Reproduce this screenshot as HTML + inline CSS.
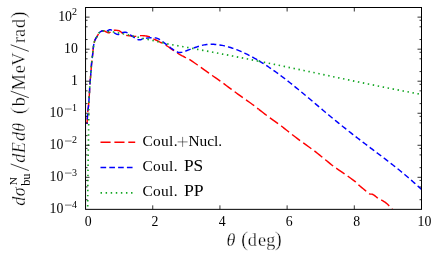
<!DOCTYPE html><html><head><meta charset="utf-8"><title>plot</title><style>html,body{margin:0;padding:0;background:#fff;overflow:hidden}svg{display:block}text{font-family:"Liberation Serif",serif;fill:#000}.i{font-style:italic;stroke:#fff;stroke-width:0.28px}.p{stroke:#fff;stroke-width:0.5px}.r{stroke:#fff;stroke-width:0.26px}</style></head><body>
<svg width="436" height="253" viewBox="0 0 436 253">
<rect width="436" height="253" fill="#fff"/>
<defs><clipPath id="c"><rect x="85.55" y="7.50" width="335.95" height="201.85"/></clipPath></defs>
<g clip-path="url(#c)" fill="none" stroke-linejoin="round">
<path d="M87.00,124.00 L87.05,123.19 L87.11,122.06 L87.19,120.72 L87.27,119.33 L87.35,118.00 L87.43,116.73 L87.51,115.44 L87.59,114.12 L87.69,112.81 L87.80,111.50 L87.94,110.25 L88.10,109.05 L88.27,107.83 L88.44,106.50 L88.60,105.00 L88.75,103.28 L88.89,101.40 L89.03,99.41 L89.17,97.36 L89.30,95.30 L89.42,93.19 L89.54,91.00 L89.65,88.78 L89.77,86.59 L89.90,84.50 L90.04,82.56 L90.20,80.73 L90.36,78.92 L90.53,77.05 L90.70,75.00 L90.88,72.70 L91.06,70.19 L91.26,67.63 L91.45,65.16 L91.65,62.90 L91.86,60.86 L92.09,58.94 L92.31,57.15 L92.52,55.50 L92.70,54.00 L92.83,52.67 L92.94,51.51 L93.02,50.48 L93.11,49.52 L93.20,48.60 L93.31,47.72 L93.42,46.91 L93.53,46.16 L93.64,45.46 L93.75,44.80 L93.86,44.19 L93.97,43.64 L94.08,43.13 L94.19,42.66 L94.30,42.20 L94.41,41.78 L94.51,41.40 L94.62,41.05 L94.75,40.69 L94.90,40.30 L95.09,39.87 L95.30,39.43 L95.53,38.97 L95.77,38.53 L96.00,38.10 L96.24,37.70 L96.48,37.31 L96.73,36.94 L96.97,36.57 L97.20,36.20 L97.41,35.83 L97.61,35.47 L97.81,35.11 L98.00,34.75 L98.20,34.40 L98.40,34.04 L98.61,33.68 L98.81,33.32 L99.03,32.99 L99.25,32.70 L99.48,32.45 L99.72,32.24 L99.97,32.04 L100.23,31.87 L100.50,31.70 L100.78,31.53 L101.08,31.37 L101.39,31.23 L101.70,31.10 L102.00,31.00 L102.30,30.92 L102.61,30.86 L102.91,30.81 L103.21,30.79 L103.50,30.80 L103.77,30.84 L104.02,30.90 L104.27,30.98 L104.52,31.08 L104.80,31.20 L105.10,31.34 L105.41,31.50 L105.73,31.67 L106.06,31.84 L106.40,32.00 L106.75,32.16 L107.12,32.33 L107.50,32.48 L107.86,32.61 L108.20,32.70 L108.51,32.75 L108.79,32.77 L109.06,32.75 L109.33,32.70 L109.60,32.60 L109.88,32.44 L110.15,32.23 L110.43,31.98 L110.71,31.73 L111.00,31.50 L111.29,31.28 L111.56,31.05 L111.86,30.84 L112.19,30.65 L112.60,30.50 L113.09,30.40 L113.66,30.34 L114.26,30.31 L114.89,30.30 L115.50,30.30 L116.13,30.32 L116.79,30.36 L117.44,30.41 L118.06,30.49 L118.60,30.60 L119.05,30.74 L119.43,30.90 L119.76,31.08 L120.08,31.28 L120.40,31.50 L120.71,31.73 L121.01,31.99 L121.29,32.25 L121.59,32.53 L121.90,32.80 L122.24,33.08 L122.60,33.37 L122.97,33.66 L123.34,33.94 L123.70,34.20 L124.02,34.43 L124.29,34.64 L124.59,34.84 L124.97,35.03 L125.50,35.20 L126.21,35.36 L127.06,35.51 L128.00,35.65 L128.99,35.78 L130.00,35.90 L131.06,36.03 L132.20,36.17 L133.36,36.30 L134.48,36.38 L135.50,36.40 L136.38,36.32 L137.17,36.17 L137.91,35.98 L138.67,35.81 L139.50,35.70 L140.41,35.65 L141.36,35.62 L142.34,35.63 L143.33,35.67 L144.30,35.75 L145.26,35.86 L146.22,36.00 L147.18,36.17 L148.14,36.40 L149.10,36.70 L150.09,37.10 L151.10,37.60 L152.10,38.14 L153.05,38.66 L153.90,39.10 L154.63,39.44 L155.27,39.72 L155.85,39.97 L156.41,40.22 L157.00,40.50 L157.58,40.79 L158.12,41.09 L158.68,41.39 L159.29,41.73 L160.00,42.10 L160.81,42.49 L161.68,42.89 L162.63,43.33 L163.66,43.85 L164.80,44.50 L166.07,45.31 L167.47,46.25 L168.94,47.26 L170.44,48.30 L171.90,49.30 L173.35,50.29 L174.83,51.30 L176.30,52.30 L177.74,53.24 L179.10,54.10 L180.41,54.86 L181.69,55.56 L182.91,56.19 L184.05,56.77 L185.10,57.30 L185.94,57.70 L186.59,57.97 L187.20,58.22 L187.95,58.59 L189.00,59.20 L190.50,60.16 L192.36,61.40 L194.32,62.74 L196.14,64.00 L197.60,65.00 L198.52,65.64 L199.08,66.05 L199.50,66.37 L200.02,66.76 L200.90,67.40 L202.27,68.38 L203.98,69.60 L205.81,70.90 L207.52,72.12 L208.90,73.10 L209.79,73.74 L210.35,74.14 L210.80,74.47 L211.36,74.87 L212.25,75.50 L213.63,76.47 L215.35,77.67 L217.18,78.94 L218.89,80.14 L220.25,81.10 L221.11,81.71 L221.62,82.08 L222.02,82.37 L222.53,82.76 L223.40,83.40 L224.78,84.42 L226.52,85.71 L228.38,87.09 L230.11,88.37 L231.50,89.40 L232.37,90.05 L232.90,90.43 L233.30,90.73 L233.82,91.11 L234.70,91.75 L236.09,92.77 L237.84,94.05 L239.71,95.42 L241.45,96.69 L242.85,97.70 L243.74,98.33 L244.29,98.69 L244.71,98.96 L245.24,99.31 L246.10,99.90 L247.42,100.84 L249.07,102.02 L250.82,103.28 L252.46,104.47 L253.80,105.45 L254.66,106.09 L255.19,106.50 L255.62,106.85 L256.21,107.33 L257.20,108.10 L258.78,109.32 L258.80,109.34" stroke="#ff0000" stroke-width="1.45" stroke-dasharray="10.10 3.80" stroke-dashoffset="2.03"/>
<path d="M258.80,109.34 L260.77,110.87 L262.91,112.53 L264.92,114.08 L266.50,115.30 L267.50,116.06 L268.10,116.52 L268.55,116.86 L269.10,117.26 L270.00,117.90 L271.39,118.89 L273.10,120.12 L274.92,121.41 L276.63,122.62 L278.00,123.60 L278.89,124.23 L279.45,124.62 L279.89,124.93 L280.43,125.34 L281.30,126.00 L282.63,127.04 L284.27,128.34 L286.02,129.73 L287.67,131.04 L289.00,132.10 L289.88,132.79 L290.44,133.23 L290.90,133.58 L291.47,134.02 L292.35,134.70 L293.69,135.74 L295.35,137.04 L297.12,138.41 L298.77,139.69 L300.10,140.70 L300.95,141.32 L301.47,141.65 L301.88,141.90 L302.42,142.24 L303.30,142.85 L304.69,143.86 L306.44,145.13 L308.31,146.50 L310.06,147.78 L311.45,148.80 L312.33,149.43 L312.87,149.80 L313.28,150.07 L313.80,150.45 L314.65,151.10 L315.98,152.15 L317.63,153.48 L319.40,154.91 L321.04,156.24 L322.35,157.30 L323.17,157.96 L323.64,158.34 L324.00,158.64 L324.48,159.03 L325.30,159.70 L326.63,160.79 L328.30,162.16 L330.09,163.63 L331.77,164.99 L333.10,166.05 L333.92,166.68 L334.39,167.00 L334.74,167.22 L335.23,167.53 L336.10,168.10 L337.52,169.06 L339.33,170.29 L341.26,171.60 L343.07,172.83 L344.50,173.80 L345.38,174.40 L345.89,174.75 L346.26,175.02 L346.75,175.38 L347.60,176.00 L348.97,176.99 L350.69,178.23 L352.52,179.57 L354.24,180.85 L355.60,181.90 L356.45,182.63 L356.94,183.15 L357.31,183.60 L357.79,184.14 L358.60,184.90 L359.89,186.01 L361.50,187.36 L363.22,188.78 L364.85,190.12 L366.15,191.20 L367.06,192.00 L367.72,192.62 L368.25,193.11 L368.75,193.51 L369.35,193.85 L370.03,194.06 L370.71,194.10 L371.42,194.11 L372.18,194.20 L373.00,194.50 L373.94,195.09 L374.99,195.90 L376.07,196.79 L377.10,197.63 L378.00,198.30 L378.72,198.74 L379.32,199.03 L379.86,199.27 L380.45,199.53 L381.15,199.90 L382.01,200.39 L382.98,200.95 L383.99,201.56 L384.99,202.20 L385.90,202.85 L386.74,203.53 L387.55,204.26 L388.31,204.99 L389.03,205.72 L389.70,206.40 L390.34,207.08 L390.95,207.76 L391.50,208.41 L391.97,208.96 L392.30,209.35" stroke="#ff0000" stroke-width="1.45" stroke-dasharray="10.10 3.80"/>
<path d="M87.00,124.00 L87.05,123.19 L87.11,122.06 L87.19,120.72 L87.27,119.33 L87.35,118.00 L87.43,116.73 L87.51,115.44 L87.59,114.12 L87.69,112.81 L87.80,111.50 L87.94,110.25 L88.10,109.05 L88.27,107.83 L88.44,106.50 L88.60,105.00 L88.75,103.28 L88.89,101.40 L89.03,99.41 L89.17,97.36 L89.30,95.30 L89.42,93.19 L89.54,91.00 L89.65,88.78 L89.77,86.59 L89.90,84.50 L90.04,82.56 L90.20,80.73 L90.36,78.92 L90.53,77.05 L90.70,75.00 L90.88,72.70 L91.06,70.19 L91.26,67.63 L91.45,65.16 L91.65,62.90 L91.86,60.86 L92.09,58.94 L92.31,57.15 L92.52,55.50 L92.70,54.00 L92.83,52.67 L92.94,51.51 L93.02,50.48 L93.11,49.52 L93.20,48.60 L93.31,47.72 L93.42,46.91 L93.53,46.16 L93.64,45.46 L93.75,44.80 L93.86,44.19 L93.97,43.64 L94.08,43.13 L94.19,42.66 L94.30,42.20 L94.41,41.78 L94.51,41.40 L94.62,41.05 L94.75,40.69 L94.90,40.30 L95.09,39.87 L95.30,39.43 L95.53,38.97 L95.77,38.53 L96.00,38.10 L96.24,37.70 L96.48,37.31 L96.73,36.94 L96.97,36.57 L97.20,36.20 L97.41,35.83 L97.61,35.47 L97.81,35.11 L98.00,34.75 L98.20,34.40 L98.40,34.04 L98.61,33.68 L98.81,33.32 L99.03,32.99 L99.25,32.70 L99.48,32.45 L99.72,32.24 L99.97,32.04 L100.23,31.87 L100.50,31.70 L100.78,31.53 L101.08,31.37 L101.39,31.23 L101.70,31.10 L102.00,31.00 L102.31,30.92 L102.62,30.86 L102.93,30.81 L103.23,30.79 L103.50,30.80 L103.75,30.84 L103.97,30.92 L104.18,31.01 L104.39,31.11 L104.60,31.20 L104.82,31.29 L105.03,31.40 L105.25,31.50 L105.47,31.58 L105.70,31.60 L105.95,31.56 L106.21,31.48 L106.47,31.36 L106.74,31.23 L107.00,31.10 L107.26,30.95 L107.53,30.79 L107.79,30.61 L108.05,30.45 L108.30,30.30 L108.53,30.17 L108.75,30.06 L108.96,29.96 L109.18,29.87 L109.40,29.80 L109.63,29.74 L109.87,29.69 L110.12,29.66 L110.36,29.66 L110.60,29.70 L110.84,29.79 L111.08,29.92 L111.32,30.09 L111.56,30.28 L111.80,30.50 L112.02,30.76 L112.23,31.06 L112.45,31.38 L112.70,31.70 L113.00,32.00 L113.38,32.28 L113.81,32.54 L114.27,32.80 L114.74,33.06 L115.20,33.30 L115.64,33.55 L116.09,33.82 L116.53,34.06 L116.97,34.27 L117.40,34.40 L117.81,34.46 L118.21,34.47 L118.60,34.42 L119.00,34.33 L119.40,34.20 L119.81,34.00 L120.21,33.73 L120.63,33.42 L121.05,33.13 L121.50,32.90 L121.98,32.72 L122.48,32.58 L123.00,32.46 L123.51,32.36 L124.00,32.30 L124.48,32.26 L124.96,32.26 L125.43,32.28 L125.88,32.32 L126.30,32.40 L126.68,32.51 L127.03,32.65 L127.36,32.82 L127.68,33.00 L128.00,33.20 L128.30,33.41 L128.58,33.64 L128.86,33.89 L129.16,34.14 L129.50,34.40 L129.90,34.67 L130.33,34.94 L130.79,35.22 L131.25,35.51 L131.70,35.80 L132.12,36.09 L132.53,36.37 L132.95,36.66 L133.40,36.97 L133.90,37.30 L134.47,37.69 L135.10,38.14 L135.76,38.58 L136.43,38.99 L137.10,39.30 L137.78,39.52 L138.48,39.68 L139.19,39.79 L139.87,39.83 L140.50,39.80 L141.02,39.68 L141.44,39.46 L141.86,39.20 L142.38,38.93 L143.10,38.70 L144.07,38.51 L145.22,38.32 L146.47,38.15 L147.76,38.00 L149.00,37.90 L150.23,37.83 L151.51,37.79 L152.77,37.79 L153.95,37.82 L155.00,37.90 L155.87,38.01 L156.60,38.15 L157.26,38.33 L157.91,38.58 L158.60,38.90 L159.33,39.31 L160.06,39.80 L160.80,40.35 L161.57,40.94 L162.40,41.55 L163.30,42.20 L164.25,42.90 L165.24,43.63 L166.23,44.37 L167.20,45.10 L168.14,45.83 L169.08,46.57 L170.02,47.30 L170.96,48.02 L171.90,48.70 L172.88,49.37 L173.90,50.05 L174.90,50.69 L175.85,51.25 L176.70,51.70 L177.40,52.03 L177.97,52.26 L178.50,52.40 L179.05,52.48 L179.70,52.50 L180.46,52.46 L181.27,52.34 L182.13,52.17 L183.01,51.95 L183.90,51.70 L184.82,51.40 L185.78,51.03 L186.75,50.64 L187.70,50.25 L188.60,49.90 L189.42,49.60 L190.19,49.32 L190.94,49.06 L191.69,48.79 L192.50,48.50 L193.34,48.19 L194.18,47.87 L195.06,47.54 L195.99,47.21 L197.00,46.87 L198.10,46.51 L199.29,46.12 L200.53,45.73 L201.78,45.38 L203.00,45.09 L204.20,44.86 L205.40,44.67 L206.60,44.52 L207.80,44.41 L209.00,44.33 L210.20,44.28 L211.40,44.27 L212.60,44.29 L213.80,44.33 L215.00,44.41 L216.20,44.51 L217.40,44.63 L218.60,44.79 L219.80,44.97 L221.00,45.17 L222.20,45.39 L223.40,45.64 L224.60,45.91 L225.80,46.20 L227.00,46.51 L228.20,46.84 L229.40,47.19 L230.60,47.56 L231.80,47.95 L233.00,48.35 L234.20,48.77 L235.40,49.21 L236.60,49.67 L237.80,50.14 L239.00,50.63 L240.20,51.13 L241.40,51.65 L242.60,52.18 L243.80,52.73 L245.00,53.29 L246.20,53.87 L247.40,54.46 L248.60,55.06 L249.80,55.68 L251.00,56.31 L252.20,56.95 L253.40,57.61 L254.60,58.28 L255.80,58.96 L257.00,59.66 L258.20,60.36 L258.80,60.72" stroke="#0000ff" stroke-width="1.45" stroke-dasharray="5.65 3.15" stroke-dashoffset="4.30"/>
<path d="M258.80,60.72 L259.40,61.08 L260.60,61.81 L261.80,62.55 L263.00,63.30 L264.20,64.07 L265.40,64.84 L266.60,65.63 L267.80,66.42 L269.00,67.23 L270.20,68.04 L271.40,68.87 L272.60,69.70 L273.80,70.55 L275.00,71.40 L276.20,72.26 L277.40,73.14 L278.60,74.02 L279.80,74.91 L281.00,75.80 L282.20,76.71 L283.40,77.62 L284.60,78.54 L285.80,79.46 L287.00,80.40 L288.20,81.34 L289.40,82.28 L290.60,83.23 L291.80,84.19 L293.00,85.15 L294.20,86.12 L295.40,87.09 L296.60,88.07 L297.80,89.05 L299.00,90.04 L300.20,91.03 L301.40,92.02 L302.60,93.02 L303.80,94.02 L305.00,95.02 L306.20,96.02 L307.40,97.03 L308.60,98.04 L309.80,99.05 L311.00,100.06 L312.20,101.07 L313.40,102.08 L314.60,103.10 L315.80,104.11 L317.00,105.12 L318.20,106.14 L319.40,107.15 L320.60,108.16 L321.80,109.17 L323.00,110.18 L324.20,111.19 L325.40,112.20 L326.60,113.20 L327.80,114.20 L329.00,115.20 L330.20,116.20 L331.40,117.20 L332.60,118.19 L333.80,119.18 L335.00,120.17 L336.20,121.15 L337.40,122.13 L338.60,123.11 L339.80,124.08 L341.00,125.05 L342.20,126.02 L343.40,126.98 L344.60,127.94 L345.80,128.90 L347.00,129.86 L348.20,130.80 L349.40,131.75 L350.60,132.69 L351.80,133.63 L353.00,134.57 L354.20,135.50 L355.40,136.43 L356.60,137.36 L357.80,138.28 L359.00,139.20 L360.20,140.12 L361.40,141.04 L362.60,141.95 L363.80,142.86 L365.00,143.77 L366.20,144.68 L367.40,145.59 L368.60,146.49 L369.80,147.39 L371.00,148.30 L372.20,149.20 L373.40,150.10 L374.60,151.00 L375.80,151.91 L377.00,152.81 L378.20,153.72 L379.40,154.62 L380.60,155.53 L381.80,156.44 L383.00,157.35 L384.20,158.27 L385.40,159.18 L386.60,160.10 L387.80,161.03 L389.00,161.95 L390.20,162.89 L391.40,163.82 L392.60,164.76 L393.80,165.71 L395.00,166.66 L396.20,167.62 L397.40,168.58 L398.60,169.55 L399.80,170.53 L401.00,171.51 L402.20,172.50 L403.40,173.50 L404.60,174.50 L405.80,175.51 L407.00,176.53 L408.20,177.55 L409.40,178.58 L410.60,179.62 L411.80,180.67 L413.00,181.72 L414.26,182.84 L415.57,184.01 L416.85,185.16 L418.02,186.22 L419.00,187.10 L419.76,187.79 L420.37,188.34 L420.85,188.78 L421.22,189.12 L421.50,189.38" stroke="#0000ff" stroke-width="1.45" stroke-dasharray="5.65 3.15"/>
<path d="M87.70,209.35 L87.71,206.73 L87.73,203.03 L87.75,198.72 L87.77,194.22 L87.80,190.00 L87.83,186.04 L87.87,182.05 L87.91,178.03 L87.95,174.01 L88.00,170.00 L88.05,166.00 L88.11,162.00 L88.18,158.00 L88.24,154.00 L88.30,150.00 L88.36,145.92 L88.42,141.76 L88.49,137.64 L88.55,133.68 L88.60,130.00 L88.65,126.58 L88.69,123.35 L88.73,120.33 L88.77,117.54 L88.80,115.00 L88.82,112.84 L88.83,111.05 L88.84,109.43 L88.86,107.81 L88.90,106.00" stroke="#12a622" stroke-width="1.65" stroke-dasharray="1.45 3.61" stroke-dashoffset="2.20"/>
<path d="M88.90,106.00 L88.96,103.97 L89.03,101.85 L89.11,99.67 L89.20,97.47 L89.30,95.30 L89.40,93.13 L89.52,90.92 L89.64,88.73 L89.76,86.58 L89.90,84.50 L90.04,82.56 L90.20,80.73 L90.36,78.92 L90.53,77.05 L90.70,75.00 L90.88,72.70 L91.06,70.19 L91.26,67.63 L91.45,65.16 L91.65,62.90 L91.86,60.86 L92.09,58.94 L92.31,57.15 L92.52,55.50 L92.70,54.00 L92.83,52.67 L92.94,51.51 L93.02,50.48 L93.11,49.52 L93.20,48.60 L93.31,47.72 L93.42,46.91 L93.53,46.16 L93.64,45.46 L93.75,44.80 L93.86,44.19 L93.97,43.64 L94.08,43.13 L94.19,42.66 L94.30,42.20 L94.41,41.78 L94.51,41.40 L94.62,41.05 L94.75,40.69 L94.90,40.30 L95.09,39.87 L95.30,39.43 L95.53,38.97 L95.77,38.53 L96.00,38.10 L96.24,37.70 L96.48,37.31 L96.73,36.94 L96.97,36.57 L97.20,36.20 L97.41,35.83 L97.61,35.47 L97.81,35.11 L98.00,34.75 L98.20,34.40 L98.40,34.04 L98.61,33.68 L98.81,33.32 L99.03,32.99 L99.25,32.70 L99.48,32.45 L99.72,32.24 L99.97,32.04 L100.23,31.87 L100.50,31.70 L100.78,31.53 L101.08,31.37 L101.39,31.23 L101.70,31.10 L102.00,31.00 L102.30,30.92 L102.61,30.86 L102.91,30.81 L103.21,30.79 L103.50,30.80 L103.77,30.84 L104.03,30.92 L104.28,31.01 L104.54,31.11 L104.80,31.20 L105.08,31.28 L105.36,31.36 L105.65,31.45 L105.93,31.53 L106.20,31.60 L106.44,31.67 L106.65,31.75 L106.86,31.81 L107.11,31.87 L107.40,31.90 L107.75,31.90 L108.13,31.88 L108.54,31.84 L109.00,31.81 L109.50,31.80 L110.02,31.79 L110.57,31.79 L111.16,31.79 L111.83,31.83 L112.60,31.90 L113.51,32.03 L114.54,32.20 L115.63,32.39 L116.74,32.60 L117.80,32.80 L118.81,33.00 L119.81,33.20 L120.80,33.40 L121.80,33.60 L122.80,33.80 L123.82,33.98 L124.85,34.15 L125.88,34.32 L126.90,34.50 L127.90,34.70 L128.88,34.94 L129.84,35.20 L130.79,35.48 L131.74,35.75 L132.70,36.00 L133.66,36.23 L134.63,36.45 L135.60,36.67 L136.56,36.88 L137.50,37.10 L138.40,37.32 L139.25,37.54 L140.11,37.75 L141.02,37.97 L142.00,38.20 L143.11,38.44 L144.31,38.68 L145.55,38.92 L146.77,39.16 L147.90,39.40 L148.93,39.63 L149.90,39.85 L150.84,40.06 L151.76,40.28 L152.70,40.50 L153.64,40.72 L154.58,40.94 L155.52,41.17 L156.46,41.39 L157.40,41.60 L158.34,41.80 L159.26,41.99 L160.20,42.18 L161.17,42.38 L162.20,42.60 L163.28,42.85 L164.39,43.13 L165.55,43.41 L166.75,43.70 L168.00,43.97 L169.32,44.23 L170.71,44.48 L172.14,44.73 L173.58,44.97 L175.00,45.22 L176.40,45.48 L177.80,45.73 L179.20,45.98 L180.60,46.23 L182.00,46.49 L183.40,46.74 L184.80,47.00 L186.20,47.25 L187.60,47.51 L189.00,47.77 L190.40,48.02 L191.80,48.28 L193.20,48.54 L194.60,48.80 L196.00,49.06 L197.40,49.32 L198.80,49.58 L200.20,49.84 L201.60,50.10 L203.00,50.36 L204.40,50.62 L205.80,50.89 L207.20,51.15 L208.60,51.41 L210.00,51.68 L211.40,51.94 L212.80,52.21 L214.20,52.47 L215.60,52.74 L217.00,53.01 L218.40,53.28 L219.80,53.54 L221.20,53.81 L222.60,54.08 L224.00,54.35 L225.40,54.62 L226.80,54.89 L228.20,55.16 L229.60,55.44 L231.00,55.71 L232.40,55.98 L233.80,56.25 L235.20,56.53 L236.60,56.80 L238.00,57.08 L239.40,57.35 L240.80,57.63 L242.20,57.91 L243.60,58.18 L245.00,58.46 L246.40,58.74 L247.80,59.02 L249.20,59.30 L250.60,59.57 L252.00,59.85 L253.40,60.13 L254.80,60.42 L256.20,60.70 L257.60,60.98 L258.80,61.22" stroke="#12a622" stroke-width="1.65" stroke-dasharray="1.45 3.61" stroke-dashoffset="1.96"/>
<path d="M258.80,61.22 L259.00,61.26 L260.40,61.54 L261.80,61.83 L263.20,62.11 L264.60,62.40 L266.00,62.68 L267.40,62.96 L268.80,63.25 L270.20,63.54 L271.60,63.82 L273.00,64.11 L274.40,64.40 L275.80,64.68 L277.20,64.97 L278.60,65.26 L280.00,65.55 L281.40,65.84 L282.80,66.13 L284.20,66.42 L285.60,66.71 L287.00,67.00 L288.40,67.29 L289.80,67.58 L291.20,67.87 L292.60,68.16 L294.00,68.45 L295.40,68.74 L296.80,69.04 L298.20,69.33 L299.60,69.62 L301.00,69.91 L302.40,70.21 L303.80,70.50 L305.20,70.79 L306.60,71.09 L308.00,71.38 L309.40,71.68 L310.80,71.97 L312.20,72.26 L313.60,72.56 L315.00,72.85 L316.40,73.15 L317.80,73.44 L319.20,73.74 L320.60,74.03 L322.00,74.33 L323.40,74.62 L324.80,74.92 L326.20,75.21 L327.60,75.51 L329.00,75.80 L330.40,76.10 L331.80,76.39 L333.20,76.69 L334.60,76.98 L336.00,77.28 L337.40,77.57 L338.80,77.87 L340.20,78.16 L341.60,78.46 L343.00,78.75 L344.40,79.04 L345.80,79.34 L347.20,79.63 L348.60,79.93 L350.00,80.22 L351.40,80.51 L352.80,80.80 L354.20,81.10 L355.60,81.39 L357.00,81.68 L358.40,81.97 L359.80,82.26 L361.20,82.55 L362.60,82.84 L364.00,83.13 L365.40,83.42 L366.80,83.71 L368.20,84.00 L369.60,84.29 L371.00,84.57 L372.40,84.86 L373.80,85.15 L375.20,85.43 L376.60,85.72 L378.00,86.00 L379.40,86.28 L380.80,86.57 L382.20,86.85 L383.60,87.13 L385.00,87.41 L386.40,87.69 L387.80,87.97 L389.20,88.25 L390.60,88.53 L392.00,88.81 L393.40,89.08 L394.80,89.36 L396.20,89.63 L397.60,89.90 L399.00,90.18 L400.40,90.45 L401.80,90.72 L403.20,90.99 L404.60,91.26 L406.00,91.53 L407.40,91.79 L408.80,92.06 L410.20,92.32 L411.60,92.58 L413.00,92.85 L414.49,93.12 L416.06,93.41 L417.60,93.70 L418.95,93.94 L420.00,94.14 L420.68,94.26 L421.07,94.33 L421.27,94.37 L421.38,94.39 L421.50,94.41" stroke="#12a622" stroke-width="1.65" stroke-dasharray="1.45 3.61"/>
</g>
<path d="M85.55,199.71h2 M421.50,199.71h-2 M85.55,186.96h2 M421.50,186.96h-2 M85.55,180.42h2 M421.50,180.42h-2 M85.55,177.32h4 M421.50,177.32h-4 M85.55,167.67h2 M421.50,167.67h-2 M85.55,154.92h2 M421.50,154.92h-2 M85.55,148.39h2 M421.50,148.39h-2 M85.55,145.28h4 M421.50,145.28h-4 M85.55,135.64h2 M421.50,135.64h-2 M85.55,122.89h2 M421.50,122.89h-2 M85.55,116.35h2 M421.50,116.35h-2 M85.55,113.25h4 M421.50,113.25h-4 M85.55,103.60h2 M421.50,103.60h-2 M85.55,90.86h2 M421.50,90.86h-2 M85.55,84.32h2 M421.50,84.32h-2 M85.55,81.21h4 M421.50,81.21h-4 M85.55,71.57h2 M421.50,71.57h-2 M85.55,58.82h2 M421.50,58.82h-2 M85.55,52.28h2 M421.50,52.28h-2 M85.55,49.18h4 M421.50,49.18h-4 M85.55,39.53h2 M421.50,39.53h-2 M85.55,26.79h2 M421.50,26.79h-2 M85.55,20.25h2 M421.50,20.25h-2 M85.55,17.14h4 M421.50,17.14h-4 M152.74,209.35v-4 M152.74,7.50v4 M219.93,209.35v-4 M219.93,7.50v4 M287.12,209.35v-4 M287.12,7.50v4 M354.31,209.35v-4 M354.31,7.50v4" stroke="#000" stroke-width="0.8" fill="none"/>
<rect x="85.55" y="7.50" width="335.95" height="201.85" fill="none" stroke="#000" stroke-width="1.0"/>
<defs><mask id="m" maskUnits="userSpaceOnUse" x="0" y="0" width="436" height="253"><rect width="436" height="253" fill="#fff"/></mask></defs>
<g mask="url(#m)" >
<text x="63.4" y="213.25" font-size="13.8" text-anchor="end">10</text>
<path d="M65.0,205.10H71.6" stroke="#000" stroke-width="0.55" fill="none"/>
<text x="72.1" y="207.55" font-size="10.0">4</text>
<text x="63.4" y="181.22" font-size="13.8" text-anchor="end">10</text>
<path d="M65.0,173.07H71.6" stroke="#000" stroke-width="0.55" fill="none"/>
<text x="72.1" y="175.52" font-size="10.0">3</text>
<text x="63.4" y="149.18" font-size="13.8" text-anchor="end">10</text>
<path d="M65.0,141.03H71.6" stroke="#000" stroke-width="0.55" fill="none"/>
<text x="72.1" y="143.48" font-size="10.0">2</text>
<text x="63.4" y="117.15" font-size="13.8" text-anchor="end">10</text>
<path d="M65.0,109.00H71.6" stroke="#000" stroke-width="0.55" fill="none"/>
<text x="72.1" y="111.45" font-size="10.0">1</text>
<text x="77.9" y="85.11" font-size="13.8" text-anchor="end">1</text>
<text x="77.9" y="53.08" font-size="13.8" text-anchor="end">10</text>
<text x="72.0" y="21.04" font-size="13.8" text-anchor="end">10</text>
<text x="72.1" y="14.74" font-size="10.0">2</text>
<text x="88.25" y="225.7" font-size="13.8" text-anchor="middle">0</text>
<text x="155.04" y="225.7" font-size="13.8" text-anchor="middle">2</text>
<text x="222.23" y="225.7" font-size="13.8" text-anchor="middle">4</text>
<text x="289.32" y="225.7" font-size="13.8" text-anchor="middle">6</text>
<text x="356.71" y="225.7" font-size="13.8" text-anchor="middle">8</text>
<text x="424.40" y="225.7" font-size="13.8" text-anchor="middle">10</text>
<text x="230.90" y="245.70" font-size="18.2" text-anchor="middle" class="i">θ</text>
<text x="244.70" y="245.70" font-size="21.5" text-anchor="middle" class="p">(</text>
<text x="252.40" y="245.70" font-size="18.2" text-anchor="middle" class="r">d</text>
<text x="262.00" y="245.70" font-size="18.2" text-anchor="middle" class="r">e</text>
<text x="270.90" y="245.70" font-size="18.2" text-anchor="middle" class="r">g</text>
<text x="278.40" y="245.70" font-size="21.5" text-anchor="middle" class="p">)</text>
<g transform="translate(25.1,206) rotate(-90)">
<text x="4.75" y="0.00" font-size="18.2" text-anchor="middle" class="i">d</text>
<text x="14.30" y="0.00" font-size="18.2" text-anchor="middle" class="i">σ</text>
<text x="47.80" y="0.00" font-size="18.2" text-anchor="middle" class="i">d</text>
<text x="58.40" y="0.00" font-size="18.2" text-anchor="middle" class="i">E</text>
<text x="69.50" y="0.00" font-size="18.2" text-anchor="middle" class="i">d</text>
<text x="78.70" y="0.00" font-size="18.2" text-anchor="middle" class="i">θ</text>
<text x="95.40" y="0.00" font-size="21.5" text-anchor="middle" class="p">(</text>
<text x="104.30" y="0.00" font-size="18.2" text-anchor="middle" class="r">b</text>
<text x="123.75" y="0.00" font-size="18.2" text-anchor="middle" class="r">M</text>
<text x="136.75" y="0.00" font-size="18.2" text-anchor="middle" class="r">e</text>
<text x="146.75" y="0.00" font-size="18.2" text-anchor="middle" class="r">V</text>
<text x="166.15" y="0.00" font-size="18.2" text-anchor="middle" class="r">r</text>
<text x="173.00" y="0.00" font-size="18.2" text-anchor="middle" class="r">a</text>
<text x="182.50" y="0.00" font-size="18.2" text-anchor="middle" class="r">d</text>
<text x="191.00" y="0.00" font-size="21.5" text-anchor="middle" class="p">)</text>
<text x="20.7" y="-7.9" font-size="11.3">N</text>
<text x="20.2" y="5.0" font-size="12.5" textLength="12.4" lengthAdjust="spacing">bu</text>
<path d="M35.45,3.7L42.05,-14.4 M108.30,3.7L114.90,-14.4 M154.65,3.7L161.25,-14.4" stroke="#000" stroke-width="0.75" fill="none" stroke-linecap="butt"/>
</g>
<g fill="none"><path d="M100.5,142.2H135.2" stroke="#ff0000" stroke-width="1.45" stroke-dasharray="10.1 3.8"/>
<path d="M100.5,167.4H135.2" stroke="#0000ff" stroke-width="1.45" stroke-dasharray="5.65 3.15"/>
<path d="M100.55,192.85H135.2" stroke="#12a622" stroke-width="1.65" stroke-dasharray="1.45 3.63"/></g>
<text x="142.4" y="145.6" font-size="15.4" textLength="35.2" lengthAdjust="spacing">Coul.</text>
<text x="142.4" y="171.0" font-size="15.4" textLength="35.2" lengthAdjust="spacing">Coul.</text>
<text x="142.4" y="196.2" font-size="15.4" textLength="35.2" lengthAdjust="spacing">Coul.</text>
<path d="M177.6,141.9H187.6M182.6,136.9V146.9" stroke="#000" stroke-width="0.5" fill="none"/>
<text x="188.5" y="145.6" font-size="15.4" textLength="33.5" lengthAdjust="spacing">Nucl.</text>
<text x="183.9" y="171.0" font-size="15.7" textLength="19.3" lengthAdjust="spacingAndGlyphs">PS</text>
<text x="183.9" y="196.2" font-size="15.7" textLength="19.7" lengthAdjust="spacingAndGlyphs">PP</text>
</g>
</svg></body></html>
